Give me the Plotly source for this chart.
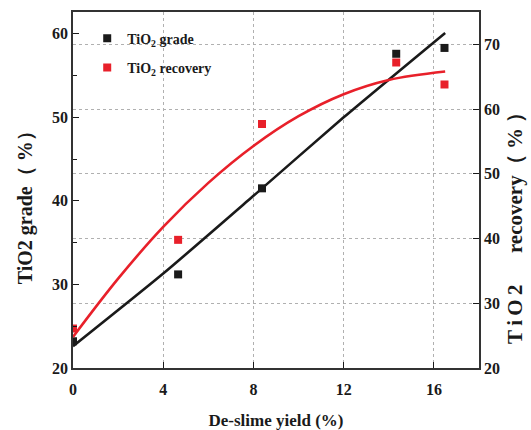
import plotly.graph_objects as go

# measured points
yield_x = [0, 4.66, 8.38, 14.33, 16.47]
grade = [23.2, 31.2, 41.5, 57.6, 58.3]
recovery = [26.1, 39.8, 57.7, 67.2, 63.8]

# fitted curves
fit_grade_x = [0, 4, 8, 12, 16.5]
fit_grade = [22.6, 31.3, 40.6, 50.0, 60.1]
fit_rec_x = [0, 2, 4, 6, 8, 10, 12, 14, 16.5]
fit_rec = [24.8, 33.8, 41.8, 48.6, 54.3, 58.9, 62.3, 64.5, 65.8]

x_ticks = [0, 4, 8, 12, 16]
left_ticks = [20, 30, 40, 50, 60]
right_ticks = [20, 30, 40, 50, 60, 70]

BLACK = "#1a1a1a"
RED = "#e8202a"
FONT = "Liberation Serif"

fig = go.Figure()
fig.add_trace(go.Scatter(x=fit_grade_x, y=fit_grade, mode="lines", line=dict(color=BLACK, width=2.6, shape="spline", smoothing=0.6),
                         showlegend=False, yaxis="y"))
fig.add_trace(go.Scatter(x=fit_rec_x, y=fit_rec, mode="lines", line=dict(color=RED, width=2.6, shape="spline"),
                         showlegend=False, yaxis="y2"))
fig.add_trace(go.Scatter(x=yield_x, y=grade, mode="markers", name="TiO<sub>2</sub> grade",
                         marker=dict(symbol="square", size=8, color=BLACK), yaxis="y", legendgroup="a"))
fig.add_trace(go.Scatter(x=yield_x, y=recovery, mode="markers", name="TiO<sub>2</sub> recovery",
                         marker=dict(symbol="square", size=8, color=RED), yaxis="y2", legendgroup="b"))

tickfont = dict(family=FONT, size=16, color=BLACK, weight="bold")
grid = dict(showgrid=True, gridcolor="#b0b0b0", griddash="dot", gridwidth=1)

fig.update_layout(
    width=531, height=430,
    margin=dict(l=73, r=52, t=12, b=62),
    paper_bgcolor="white", plot_bgcolor="white",
    font=dict(family=FONT, color=BLACK),
    xaxis=dict(range=[0, 18], tickvals=x_ticks, ticks="inside", ticklen=6, tickcolor=BLACK, tickwidth=1.2,
               showline=True, linecolor="#333333", linewidth=1.5, mirror=True, zeroline=False,
               tickfont=tickfont, ticklabelstandoff=6, automargin=False, **grid,
               title=dict(text="De-slime yield (%)", font=dict(family=FONT, size=17, color=BLACK, weight="bold"),
                          standoff=22)),
    yaxis=dict(range=[20, 62.6], tickvals=left_ticks, ticks="inside", ticklen=6, tickcolor=BLACK, tickwidth=1.2,
               showline=True, linecolor="#333333", linewidth=1.5, zeroline=False, showgrid=False,
               tickfont=tickfont, automargin=False,
               minor=dict(ticks="inside", ticklen=4, tickcolor=BLACK, dtick=5, tick0=20, showgrid=False)),
    yaxis2=dict(range=[20, 75], tickvals=right_ticks, overlaying="y", side="right", ticks="inside", ticklen=6,
                tickcolor=BLACK, tickwidth=1.2, showline=True, linecolor="#333333", linewidth=1.5,
                zeroline=False, tickfont=tickfont, automargin=False, **grid),
    legend=dict(x=0.035, y=0.97, xanchor="left", yanchor="top", bgcolor="rgba(0,0,0,0)",
                font=dict(family=FONT, size=14, color=BLACK, weight="bold"),
                traceorder="grouped", tracegroupgap=8),
    annotations=[
        dict(text="TiO2 grade（ %）", xref="paper", yref="paper", x=-0.118, y=0.463, textangle=-90,
             showarrow=False, font=dict(family=FONT, size=20, color=BLACK, weight="bold"),
             xanchor="center", yanchor="middle"),
        dict(text="T\u2009i\u2009O\u20092\u2003\u2002recovery（ % ）", xref="paper", yref="paper", x=1.089, y=0.408,
             textangle=-90, showarrow=False, font=dict(family=FONT, size=21, color=BLACK, weight="bold"),
             xanchor="center", yanchor="middle"),
    ],
)

fig.write_html("out.html")
